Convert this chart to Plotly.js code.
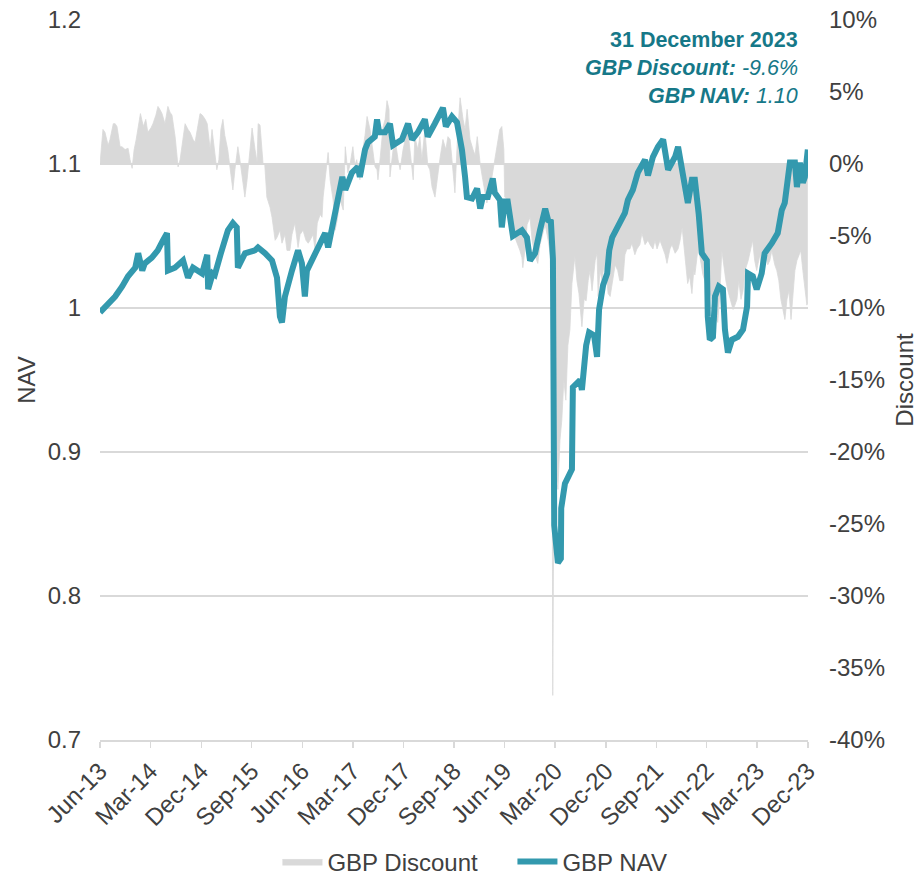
<!DOCTYPE html>
<html>
<head>
<meta charset="utf-8">
<script src="https://cdn.plot.ly/plotly-3.0.1.min.js"></script>
<style>html,body{margin:0;padding:0;background:#fff;}#chart{width:924px;height:875px;}</style>
</head>
<body>
<div id="chart"></div>
<script>
// ---------- DATA ----------
const navDates = ['2013-07-01','2013-07-22','2013-08-14','2013-09-21','2013-10-29','2013-11-30','2014-01-08','2014-01-24','2014-02-15','2014-03-01',
'2014-04-08','2014-05-10','2014-06-07','2014-06-29','2014-07-04','2014-08-11','2014-09-24','2014-10-21','2014-11-17','2015-01-05',
'2015-02-02','2015-02-07','2015-03-04','2015-03-15','2015-04-17','2015-05-25','2015-06-21','2015-07-12','2015-07-18','2015-08-26',
'2015-10-18','2015-11-04','2015-12-12','2016-01-19','2016-02-15','2016-03-02','2016-03-13','2016-03-29','2016-05-06','2016-06-08',
'2016-06-29','2016-07-15','2016-07-26','2016-09-09','2016-11-02','2016-11-18','2016-12-15','2017-02-03','2017-02-19','2017-03-27',
'2017-04-28','2017-05-09','2017-06-06','2017-06-22','2017-07-29','2017-08-10','2017-08-21','2017-09-22','2017-10-19','2017-11-05',
'2017-12-23','2018-01-25','2018-02-16','2018-03-19','2018-04-26','2018-05-12','2018-06-19','2018-08-02','2018-08-18','2018-09-20',
'2018-10-17','2018-11-13','2018-11-30','2018-12-10','2019-01-07','2019-02-03','2019-02-20','2019-03-06','2019-04-02','2019-04-29',
'2019-05-10','2019-06-07','2019-06-17','2019-07-03','2019-07-19','2019-08-16','2019-10-04','2019-10-31','2019-11-17','2019-12-14',
'2020-01-10','2020-02-07','2020-02-23','2020-03-09','2020-03-20','2020-03-25','2020-03-27','2020-04-16','2020-05-02','2020-05-04',
'2020-05-24','2020-07-01','2020-07-06','2020-08-14','2020-08-24','2020-09-16','2020-10-02','2020-10-29','2020-11-14','2020-11-25',
'2020-12-17','2021-01-08','2021-01-19','2021-02-04','2021-03-06','2021-04-14','2021-04-30','2021-05-27','2021-06-23','2021-08-01',
'2021-08-17','2021-09-13','2021-10-10','2021-11-07','2021-12-04','2022-01-11','2022-01-27','2022-02-24','2022-03-21','2022-04-12',
'2022-04-28','2022-05-19','2022-06-05','2022-07-02','2022-07-07','2022-07-18','2022-08-04','2022-08-15','2022-09-05','2022-09-27',
'2022-10-08','2022-10-24','2022-11-15','2022-12-17','2023-01-14','2023-02-05','2023-02-10','2023-03-08','2023-03-29','2023-04-25',
'2023-05-11','2023-06-19','2023-07-21','2023-08-12','2023-08-28','2023-09-25','2023-10-22','2023-11-02','2023-11-18','2023-12-04',
'2023-12-15','2023-12-31'];
const navValues = [0.997,1.000,1.003,1.008,1.015,1.022,1.028,1.038,1.026,1.031,
1.035,1.040,1.047,1.052,1.026,1.028,1.033,1.021,1.028,1.024,
1.037,1.013,1.024,1.023,1.038,1.054,1.059,1.056,1.028,1.038,
1.040,1.042,1.038,1.033,1.021,0.994,0.990,1.008,1.026,1.040,
1.031,1.008,1.026,1.038,1.052,1.042,1.059,1.091,1.082,1.094,
1.098,1.091,1.110,1.115,1.119,1.131,1.122,1.122,1.128,1.113,
1.117,1.128,1.117,1.122,1.131,1.119,1.128,1.139,1.126,1.133,
1.129,1.110,1.091,1.077,1.076,1.083,1.069,1.077,1.077,1.090,
1.080,1.075,1.056,1.074,1.074,1.050,1.054,1.049,1.033,1.038,
1.054,1.069,1.061,1.060,1.034,0.952,0.849,0.823,0.826,0.861,
0.878,0.888,0.945,0.950,0.943,0.974,0.983,0.981,0.966,0.999,
1.016,1.024,1.040,1.049,1.056,1.066,1.075,1.082,1.094,1.103,
1.092,1.105,1.112,1.117,1.096,1.105,1.112,1.094,1.073,1.089,
1.089,1.065,1.038,1.033,0.994,0.978,0.980,1.008,1.015,1.013,
0.985,0.969,0.978,0.980,0.985,1.001,1.024,1.022,1.013,1.024,
1.038,1.045,1.052,1.068,1.073,1.101,1.101,1.084,1.101,1.087,
1.091,1.110];

const discDates = ['2013-07-01','2013-07-06','2013-07-17','2013-07-28','2013-08-14','2013-08-24','2013-09-11','2013-09-21','2013-10-01','2013-10-18',
'2013-10-28','2013-11-14','2013-11-30','2013-12-11','2013-12-22','2014-01-02','2014-01-13','2014-02-05','2014-02-21','2014-03-06',
'2014-03-17','2014-04-03','2014-04-14','2014-04-30','2014-05-11','2014-05-21','2014-06-02','2014-06-18','2014-07-04','2014-07-15',
'2014-07-26','2014-08-12','2014-08-28','2014-09-08','2014-09-24','2014-10-05','2014-10-21','2014-11-01','2014-11-17','2014-11-28',
'2014-12-14','2014-12-25','2015-01-06','2015-01-22','2015-02-02','2015-02-18','2015-02-28','2015-03-15','2015-03-26','2015-04-06',
'2015-04-17','2015-04-28','2015-05-08','2015-05-24','2015-06-05','2015-06-21','2015-07-02','2015-07-18','2015-07-29','2015-08-14',
'2015-08-25','2015-09-06','2015-09-22','2015-10-03','2015-10-19','2015-10-30','2015-11-05','2015-11-15','2015-12-01','2015-12-11',
'2015-12-22','2016-01-08','2016-01-19','2016-02-05','2016-02-15','2016-03-02','2016-03-13','2016-03-29','2016-04-09','2016-04-25',
'2016-05-06','2016-05-22','2016-06-03','2016-06-08','2016-06-19','2016-07-05','2016-07-21','2016-08-02','2016-08-12','2016-08-28',
'2016-09-09','2016-09-20','2016-10-06','2016-10-16','2016-10-22','2016-11-02','2016-11-18','2016-11-29','2016-12-15','2016-12-26',
'2017-01-06','2017-01-22','2017-02-08','2017-02-19','2017-03-05','2017-03-16','2017-04-01','2017-04-12','2017-04-22','2017-05-09',
'2017-05-25','2017-06-06','2017-06-17','2017-07-03','2017-07-19','2017-07-30','2017-08-10','2017-08-15','2017-08-26','2017-09-12',
'2017-09-23','2017-10-03','2017-10-14','2017-10-19','2017-11-05','2017-11-16','2017-12-02','2017-12-13','2017-12-29','2018-01-10',
'2018-01-20','2018-02-06','2018-02-22','2018-03-03','2018-03-19','2018-03-30','2018-04-10','2018-04-26','2018-05-12','2018-05-23',
'2018-06-04','2018-06-20','2018-07-01','2018-07-16','2018-08-02','2018-08-18','2018-08-29','2018-09-10','2018-09-20','2018-10-06',
'2018-10-22','2018-11-03','2018-11-19','2018-11-30','2018-12-11','2018-12-27','2019-01-12','2019-01-23','2019-02-04','2019-02-20',
'2019-03-06','2019-03-17','2019-03-28','2019-04-13','2019-04-30','2019-05-10','2019-05-20','2019-06-06','2019-06-17','2019-06-28',
'2019-07-03','2019-07-19','2019-07-30','2019-08-16','2019-08-27','2019-09-13','2019-09-23','2019-10-04','2019-10-09','2019-10-20',
'2019-11-01','2019-11-17','2019-11-28','2019-12-13','2019-12-29','2020-01-10','2020-01-26','2020-02-07','2020-02-23','2020-03-04',
'2020-03-14','2020-03-19','2020-03-25','2020-04-06','2020-04-16','2020-04-27','2020-05-07','2020-05-18','2020-05-29','2020-06-09',
'2020-06-20','2020-07-01','2020-07-17','2020-07-28','2020-08-08','2020-08-24','2020-09-05','2020-09-16','2020-09-27','2020-10-07',
'2020-10-18','2020-11-04','2020-11-14','2020-11-20','2020-11-30','2020-12-11','2020-12-22','2021-01-08','2021-01-13','2021-01-24',
'2021-02-10','2021-02-20','2021-03-06','2021-03-17','2021-04-03','2021-04-14','2021-04-25','2021-05-11','2021-05-22','2021-06-07',
'2021-06-18','2021-07-04','2021-07-15','2021-08-01','2021-08-17','2021-08-28','2021-09-13','2021-09-24','2021-10-05','2021-10-21',
'2021-11-07','2021-11-18','2021-11-28','2021-12-14','2021-12-25','2022-01-11','2022-01-27','2022-02-07','2022-02-18','2022-02-28',
'2022-03-09','2022-03-20','2022-03-31','2022-04-12','2022-04-22','2022-04-28','2022-05-14','2022-05-25','2022-06-11','2022-06-21',
'2022-07-07','2022-07-18','2022-07-29','2022-08-14','2022-08-30','2022-09-11','2022-09-21','2022-10-03','2022-10-13','2022-10-24',
'2022-11-05','2022-11-21','2022-12-01','2022-12-12','2022-12-22','2023-01-03','2023-01-14','2023-01-25','2023-02-11','2023-02-21',
'2023-03-07','2023-03-18','2023-03-29','2023-04-15','2023-04-25','2023-05-12','2023-05-28','2023-06-08','2023-06-19','2023-07-05',
'2023-07-16','2023-07-27','2023-08-07','2023-08-18','2023-08-29','2023-09-09','2023-09-20','2023-10-01','2023-10-11','2023-10-22',
'2023-11-02','2023-11-12','2023-11-23','2023-12-04','2023-12-15','2023-12-26','2023-12-31'];
const discValues = [0,1.0,2.4,2.2,1.3,1.7,2.8,2.8,2.6,1.2,
1.2,1.0,1.1,0.3,-0.3,1.0,1.7,3.5,2.6,3.1,
2.2,2.5,2.8,3.4,4.0,3.8,3.5,2.8,4.0,3.6,
3.4,1.9,-0.2,0.3,2.0,2.8,2.4,2.2,1.7,1.5,
2.7,3.5,3.4,3.1,2.8,1.0,2.4,1.0,-0.4,0.3,
2.4,3.1,2.0,1.0,-0.1,-1.8,-0.4,1.2,0.3,-1.5,
-2.3,-1.1,1.0,2.5,1.0,0.1,2.8,2.7,0.1,-0.1,
-2.3,-3.0,-3.7,-5.3,-5.1,-4.6,-5.5,-4.9,-6.0,-6.0,
-4.9,-4.1,-5.3,-5.8,-4.9,-4.6,-5.3,-5.5,-5.3,-4.9,
-6.0,-4.1,-3.5,-3.7,-2.3,-1.1,0.8,-1.1,-2.5,-4.6,
-3.9,-2.5,-3.2,1.2,-0.6,-0.1,1.2,-0.1,0.3,-1.1,
1.0,2.0,3.3,2.4,1.0,-0.2,-0.4,-1.1,0.3,2.6,
3.1,4.4,3.8,-0.9,1.0,1.7,0.3,-0.4,1.0,1.7,
2.8,1.0,-1.1,1.9,1.0,1.9,0.3,2.4,-0.1,-0.4,
-1.6,-2.3,-1.1,0.3,1.7,1.0,1.9,1.7,0.3,-2.0,
2.4,4.6,3.1,2.4,3.8,1.7,1.0,0.6,1.9,0,
-1.1,-1.8,-2.7,-1.8,-0.4,0.3,1.0,2.4,2.6,1.0,
-2.3,-2.5,-3.2,-3.9,-5.1,-5.6,-6.0,-6.5,-7.2,-6.0,
-4.2,-3.7,-5.3,-6.3,-6.9,-5.6,-4.9,-4.2,-5.3,-6.3,
-6.9,-36.9,-23.3,-21.3,-22.6,-19.2,-17.8,-15.0,-16.4,-12.6,
-11.5,-8.3,-6.4,-8.1,-9.0,-11.3,-9.4,-9.5,-8.1,-7.4,
-8.8,-6.7,-6.2,-9.2,-7.4,-8.1,-7.0,-8.3,-9.0,-9.2,
-7.7,-7.0,-7.4,-8.1,-8.1,-6.3,-5.9,-5.9,-5.5,-6.3,
-5.9,-5.6,-4.8,-5.6,-5.3,-5.6,-5.9,-5.3,-5.9,-5.3,
-5.9,-6.3,-6.9,-5.9,-5.6,-6.2,-5.9,-5.3,-4.4,-5.6,
-7.0,-8.3,-7.8,-9.0,-7.4,-7.7,-6.0,-6.4,-7.7,-8.1,
-9.0,-8.8,-9.4,-10.6,-11.0,-8.8,-6.0,-7.4,-8.1,-8.8,
-9.4,-10.1,-9.8,-9.4,-8.1,-9.4,-8.8,-7.4,-6.7,-6.2,
-5.3,-6.7,-7.4,-6.3,-7.4,-6.0,-7.0,-6.7,-6.0,-7.0,
-7.4,-8.1,-9.4,-10.1,-10.8,-9.4,-8.8,-10.8,-9.4,-7.4,
-6.7,-6.4,-6.0,-7.4,-8.8,-9.8,-9.6];

const xTickDates = ['2013-07-01','2014-04-01','2015-01-01','2015-10-01','2016-07-01','2017-04-01','2018-01-01','2018-10-01',
'2019-07-01','2020-04-01','2021-01-01','2021-10-01','2022-07-01','2023-04-01','2024-01-01'];
const xTickLabels = ['Jun-13','Mar-14','Dec-14','Sep-15','Jun-16','Mar-17','Dec-17','Sep-18','Jun-19','Mar-20','Dec-20','Sep-21','Jun-22','Mar-23','Dec-23'];
const navTicks = [0.7,0.8,0.9,1.0,1.1,1.2];
const navTickLabels = ['0.7','0.8','0.9','1','1.1','1.2'];
const discTicks = [-40,-35,-30,-25,-20,-15,-10,-5,0,5,10];
const discTickLabels = ['-40%','-35%','-30%','-25%','-20%','-15%','-10%','-5%','0%','5%','10%'];
const seriesNames = ['GBP Discount','GBP NAV'];
const noteLines = ['<b>31 December 2023</b>','<b><i>GBP Discount:</i></b><i> -9.6%</i>','<b><i>GBP NAV:</i></b><i> 1.10</i>'];

// ---------- STYLE ----------
const FONT = 'Liberation Sans, Arial, sans-serif';
const TXT = '#404040';
const TEAL = '#3399ae';
const NOTE = '#167888';
const GREY = '#d9d9d9';
const FS = 24;

const traces = [
  {x: discDates, y: discValues, name: seriesNames[0], type: 'scatter', mode: 'lines', legendwidth: 180,
   yaxis: 'y', fill: 'tozeroy', fillcolor: GREY, line: {color: GREY, width: 0.8}, hoverinfo: 'x+y'},
  {x: navDates, y: navValues, name: seriesNames[1], type: 'scatter', mode: 'lines',
   yaxis: 'y2', line: {color: TEAL, width: 6}, hoverinfo: 'x+y'}
];

const layout = {
  width: 924, height: 875,
  margin: {l: 100, r: 116, t: 20, b: 135, autoexpand: false},
  paper_bgcolor: '#fff', plot_bgcolor: 'rgba(0,0,0,0)',
  font: {family: FONT, size: FS, color: TXT},
  showlegend: true,
  legend: {orientation: 'h', xref: 'container', yref: 'container', x: 0.514, xanchor: 'center', y: 0.015, yanchor: 'middle',
           font: {family: FONT, size: FS, color: TXT}, itemwidth: 40, traceorder: 'normal', bgcolor: 'rgba(0,0,0,0)'},
  xaxis: {type: 'date', range: ['2013-07-01','2024-01-01'], tickmode: 'array', tickvals: xTickDates, ticktext: xTickLabels,
          tickangle: -45, showgrid: false, showline: true, linecolor: GREY, linewidth: 1.5, automargin: false,
          ticks: 'outside', tickcolor: GREY, ticklen: 6, tickwidth: 1.5, zeroline: false,
          tickfont: {family: FONT, size: FS, color: TXT}},
  yaxis: {range: [-40, 10], side: 'right', tickmode: 'array', tickvals: discTicks, ticktext: discTickLabels, automargin: false,
          showgrid: false, zeroline: false, showline: false, ticks: '', ticklabelstandoff: 20,
          tickfont: {family: FONT, size: FS, color: TXT},
          title: {text: 'Discount', font: {family: FONT, size: FS, color: TXT}, standoff: 12}},
  yaxis2: {range: [0.7, 1.2], overlaying: 'y', side: 'left', tickmode: 'array', tickvals: navTicks, ticktext: navTickLabels, automargin: false,
           showgrid: true, gridcolor: GREY, gridwidth: 1.5, zeroline: false, showline: false, ticks: '', ticklabelstandoff: 18,
           tickfont: {family: FONT, size: FS, color: TXT},
           title: {text: 'NAV', font: {family: FONT, size: FS, color: TXT}, standoff: 5}},
  annotations: [
    {text: noteLines[0], xref: 'paper', yref: 'paper', x: 0.989, y: 0.972, xanchor: 'right', yanchor: 'middle', showarrow: false,
     font: {family: FONT, size: 21.5, color: NOTE}},
    {text: noteLines[1], xref: 'paper', yref: 'paper', x: 0.989, y: 0.933, xanchor: 'right', yanchor: 'middle', showarrow: false,
     font: {family: FONT, size: 21.5, color: NOTE}},
    {text: noteLines[2], xref: 'paper', yref: 'paper', x: 0.989, y: 0.894, xanchor: 'right', yanchor: 'middle', showarrow: false,
     font: {family: FONT, size: 21.5, color: NOTE}}
  ]
};

Plotly.newPlot('chart', traces, layout, {displayModeBar: false, staticPlot: true});
</script>
</body>
</html>
